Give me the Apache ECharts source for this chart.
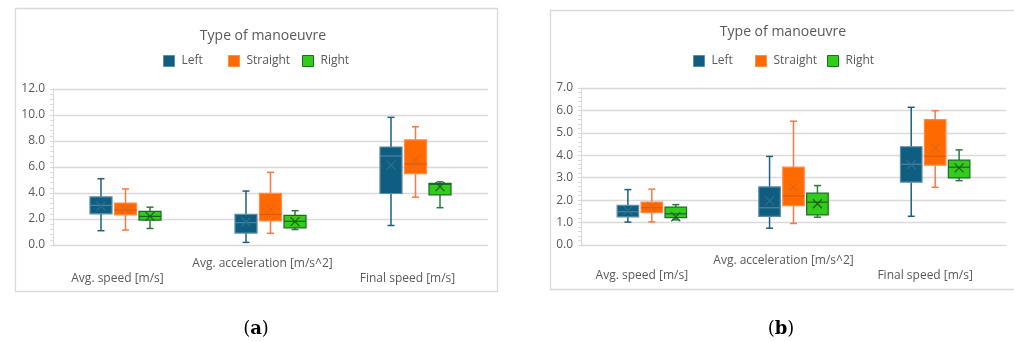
<!DOCTYPE html>
<html><head><meta charset="utf-8">
<script src="https://cdn.jsdelivr.net/npm/echarts@6/dist/echarts.min.js"></script>
<style>html,body{margin:0;padding:0;background:#fff}#c{width:1014px;height:342px}</style>
</head><body><div id="c"></div>
<script>
const categories = ['Avg. speed [m/s]', 'Avg. acceleration [m/s^2]', 'Final speed [m/s]'];
const seriesNames = ['Left', 'Straight', 'Right'];
const titleText = 'Type of manoeuvre';
// each row: [min, Q1, median, Q3, max, mean]
const aLeft     = [[1.10, 2.40, 3.05, 3.70, 5.10, 3.00], [0.20, 0.92, 1.72, 2.36, 4.15, 1.77], [1.50, 3.96, 6.85, 7.54, 9.82, 6.14]];
const aStraight = [[1.15, 2.31, 2.68, 3.23, 4.31, 2.72], [0.90, 1.85, 2.35, 3.97, 5.59, 2.74], [3.68, 5.49, 6.23, 8.09, 9.10, 6.57]];
const aRight    = [[1.27, 1.92, 2.20, 2.59, 2.91, 2.20], [1.19, 1.31, 1.82, 2.28, 2.64, 1.80], [2.87, 3.85, 4.67, 4.74, 4.86, 4.49]];
const bLeft     = [[1.02, 1.25, 1.48, 1.77, 2.47, 1.53], [0.75, 1.28, 1.66, 2.59, 3.95, 1.97], [1.28, 2.80, 3.60, 4.38, 6.14, 3.58]];
const bStraight = [[1.03, 1.44, 1.66, 1.91, 2.49, 1.71], [0.96, 1.76, 2.19, 3.47, 5.52, 2.58], [2.57, 3.56, 3.96, 5.59, 5.99, 4.33]];
const bRight    = [[1.12, 1.22, 1.39, 1.69, 1.80, 1.26], [1.24, 1.34, 1.91, 2.31, 2.65, 1.84], [2.87, 2.99, 3.47, 3.78, 4.24, 3.44]];
const aTicks = {min: 0, max: 12, interval: 2};
const bTicks = {min: 0, max: 7, interval: 1};

const styles = {
  Left:     {fill: '#0f5d80', border: '#5b8fa9', whisker: '#1c5f80', median: '#4f87a3', mean: '#2e6f8e'},
  Straight: {fill: '#ff6a00', border: '#ff8c4a', whisker: '#f57a45', median: '#d85a10', mean: '#e0651a'},
  Right:    {fill: '#33cc1a', border: '#1d6b2b', whisker: '#2a7a3a', median: '#1d5e28', mean: '#1d5e28'}
};
const offsets = {Left: -0.169, Straight: 0, Right: 0.169};
const FONT = '"Open Sans", "Noto Sans", sans-serif';
const GREY = '#595959';
const LINE = '#d9d9d9';

function makeSeries(name, arr, gi) {
  const st = styles[name];
  return {
    type: 'custom', name: name, xAxisIndex: gi, yAxisIndex: gi,
    itemStyle: {color: st.fill, borderColor: st.border},
    encode: {x: 0, y: [1, 2, 3, 4, 5, 6]},
    data: arr.map((r, i) => [i].concat(r)),
    renderItem: function (params, api) {
      const xi = api.value(0);
      const band = api.size([1, 0])[0];
      const cx = api.coord([xi, 0])[0] + offsets[name] * band;
      const bw = band * 0.152;
      const y = k => api.coord([xi, api.value(k)])[1];
      const yMin = y(1), yQ1 = y(2), yMed = y(3), yQ3 = y(4), yMax = y(5), yMean = y(6);
      const cap = 3.5, xs = 4.5;
      const ln = (x1, y1, x2, y2, c, w) => ({type: 'line', shape: {x1, y1, x2, y2}, style: {stroke: c, lineWidth: w || 1.5}});
      return {type: 'group', children: [
        ln(cx, yMax, cx, yQ3, st.whisker),
        ln(cx, yQ1, cx, yMin, st.whisker),
        ln(cx - cap, yMax, cx + cap, yMax, st.whisker),
        ln(cx - cap, yMin, cx + cap, yMin, st.whisker),
        {type: 'rect', shape: {x: cx - bw / 2, y: yQ3, width: bw, height: yQ1 - yQ3},
         style: {fill: st.fill, stroke: st.border, lineWidth: 1.2}},
        ln(cx - bw / 2, yMed, cx + bw / 2, yMed, st.median, 1.2),
        ln(cx - xs, yMean - xs, cx + xs, yMean + xs, st.mean, 1.2),
        ln(cx - xs, yMean + xs, cx + xs, yMean - xs, st.mean, 1.2)
      ]};
    }
  };
}

function legendItems(xs) {
  return seriesNames.map((n, i) => ({
    left: xs[i], top: 55, padding: 0, itemWidth: 11, itemHeight: 11, itemGap: 0,
    icon: 'rect', selectedMode: false,
    textStyle: {color: GREY, fontSize: 12, fontFamily: FONT, padding: [0, 0, 0, 2]},
    data: [{name: n, itemStyle: {color: styles[n].fill, borderColor: styles[n].border, borderWidth: 1}}]
  }));
}

function xAxis(gi, margin, shift) {
  return {
    type: 'category', gridIndex: gi, data: categories,
    axisLine: {lineStyle: {color: LINE, width: 1}}, axisTick: {show: false},
    axisLabel: {
      interval: 0, margin: margin, color: GREY, fontSize: 12, fontFamily: FONT,
      lineHeight: 15, padding: [0, shift, 0, 0],
      formatter: (v, i) => (i === 1 ? v : '\n' + v)
    }
  };
}
function yAxis(gi, t) {
  return {
    type: 'value', gridIndex: gi, min: t.min, max: t.max, interval: t.interval,
    axisLine: {show: true, lineStyle: {color: LINE}},
    axisTick: {show: true, length: 3, lineStyle: {color: LINE}},
    minorTick: {show: true, splitNumber: 5, length: 3, lineStyle: {color: LINE}},
    splitLine: {lineStyle: {color: LINE, width: 1.3}},
    axisLabel: {margin: 8, color: GREY, fontSize: 12, fontFamily: FONT, formatter: v => v.toFixed(1)}
  };
}

const panelLabel = (x, letter) => ({
  type: 'text', x: x, y: 329, style: {text: '{p|(}{b|' + letter + '}{p|)}', align: 'center', verticalAlign: 'middle',
    rich: {p: {fontFamily: '"DejaVu Serif", serif', fontSize: 18, fill: '#000'},
           b: {fontFamily: '"DejaVu Serif", serif', fontSize: 18, fontWeight: 'bold', fill: '#000'}}}
});

const chart = echarts.init(document.getElementById('c'), null, {renderer: 'canvas'});
chart.setOption({
  animation: false,
  textStyle: {fontFamily: FONT},
  graphic: [
    {type: 'rect', shape: {x: 15.5, y: 8.5, width: 482, height: 283}, style: {fill: 'none', stroke: LINE, lineWidth: 1.3}, z: -1},
    {type: 'rect', shape: {x: 550.5, y: 10.5, width: 480, height: 279}, style: {fill: 'none', stroke: LINE, lineWidth: 1.3}, z: -1},
    panelLabel(256, 'a'),
    panelLabel(781, 'b')
  ],
  title: [
    {text: titleText, left: 258, top: 24, textAlign: 'center', textStyle: {color: GREY, fontSize: 14, fontWeight: 'normal', fontFamily: FONT}},
    {text: titleText, left: 778, top: 20, textAlign: 'center', textStyle: {color: GREY, fontSize: 14, fontWeight: 'normal', fontFamily: FONT}}
  ],
  legend: legendItems([163, 228, 302]).concat(legendItems([693, 755, 827])),
  grid: [
    {left: 53, right: 526, top: 89, bottom: 97},
    {left: 581, right: 8, top: 88, bottom: 97}
  ],
  xAxis: [xAxis(0, 11, 16), xAxis(1, 8, 20)],
  yAxis: [yAxis(0, aTicks), yAxis(1, bTicks)],
  series: [
    makeSeries('Left', aLeft, 0), makeSeries('Straight', aStraight, 0), makeSeries('Right', aRight, 0),
    makeSeries('Left', bLeft, 1), makeSeries('Straight', bStraight, 1), makeSeries('Right', bRight, 1)
  ]
});
</script></body></html>
